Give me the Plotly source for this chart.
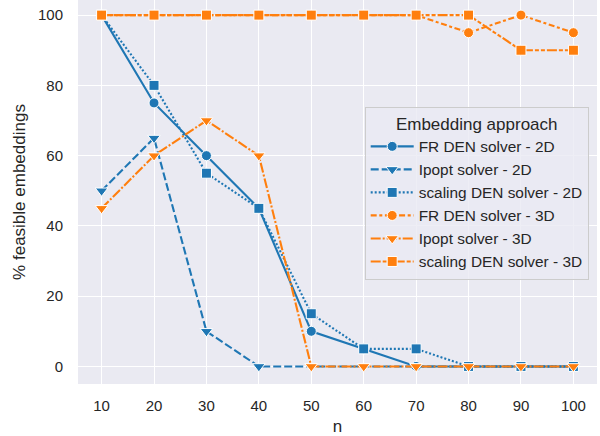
import plotly.graph_objects as go

n = [10, 20, 30, 40, 50, 60, 70, 80, 90, 100]
fr_2d = [100, 75, 60, 45, 10, 5, 0, 0, 0, 0]
ipopt_2d = [50, 65, 10, 0, 0, 0, 0, 0, 0, 0]
scaling_2d = [100, 80, 55, 45, 15, 5, 5, 0, 0, 0]
fr_3d = [100, 100, 100, 100, 100, 100, 100, 95, 100, 95]
ipopt_3d = [45, 60, 70, 60, 0, 0, 0, 0, 0, 0]
scaling_3d = [100, 100, 100, 100, 100, 100, 100, 100, 90, 90]

BLUE = "#1f77b4"
ORANGE = "#ff7f0e"
FONT = "Liberation Sans, Arial, sans-serif"
TXT = "#262626"

series = [
    ("FR DEN solver - 2D", fr_2d, BLUE, "solid", "circle", 10),
    ("Ipopt solver - 2D", ipopt_2d, BLUE, "8px,3px", "triangle-down", 11),
    ("scaling DEN solver - 2D", scaling_2d, BLUE, "2px,2px", "square", 10),
    ("FR DEN solver - 3D", fr_3d, ORANGE, "6px,2.6px,3px,2.6px", "circle", 10),
    ("Ipopt solver - 3D", ipopt_3d, ORANGE, "10px,2px,2px,2px", "triangle-down", 11),
    ("scaling DEN solver - 3D", scaling_3d, ORANGE, "10px,2px,4px,2px,4px,2px", "square", 10),
]

fig = go.Figure()
for name, ys, col, dash, sym, sz in series:
    fig.add_trace(go.Scatter(
        x=n, y=ys, name=name, mode="lines+markers",
        line=dict(color=col, width=2.1, dash=dash),
        marker=dict(symbol=sym, size=sz, color=col, line=dict(color="white", width=1)),
    ))

fig.update_layout(
    width=600, height=436,
    margin=dict(l=78, r=3, t=0, b=52, autoexpand=False),
    paper_bgcolor="white",
    plot_bgcolor="#eaeaf2",
    font=dict(family=FONT, size=15, color=TXT),
    showlegend=True,
    legend=dict(
        title=dict(text="Embedding approach", font=dict(size=17, color=TXT), side="top center"),
        font=dict(size=15.4, color=TXT),
        x=0.984, xanchor="right", y=0.722, yanchor="top",
        bgcolor="rgba(234,234,242,0.8)",
        bordercolor="#cccccc", borderwidth=1,
        itemwidth=43,
    ),
    xaxis=dict(
        range=[5.5, 104.5], tickvals=n, showgrid=True, gridcolor="white", gridwidth=1.2,
        zeroline=False, showline=False, ticks="", ticklabelstandoff=11, automargin=False,
        title=dict(text="n", font=dict(size=17, color=TXT), standoff=8),
        tickfont=dict(size=15, color=TXT),
    ),
    yaxis=dict(
        range=[-5, 104.3], tickvals=[0, 20, 40, 60, 80, 100], showgrid=True, gridcolor="white",
        gridwidth=1.2, zeroline=False, showline=False, ticks="", ticklabelstandoff=14,
        automargin=False,
        title=dict(text="% feasible embeddings", font=dict(size=17, color=TXT), standoff=8),
        tickfont=dict(size=15, color=TXT),
    ),
)

fig.write_html("out.html", config={"displayModeBar": False},
               post_script="document.body.style.margin='0px';")
